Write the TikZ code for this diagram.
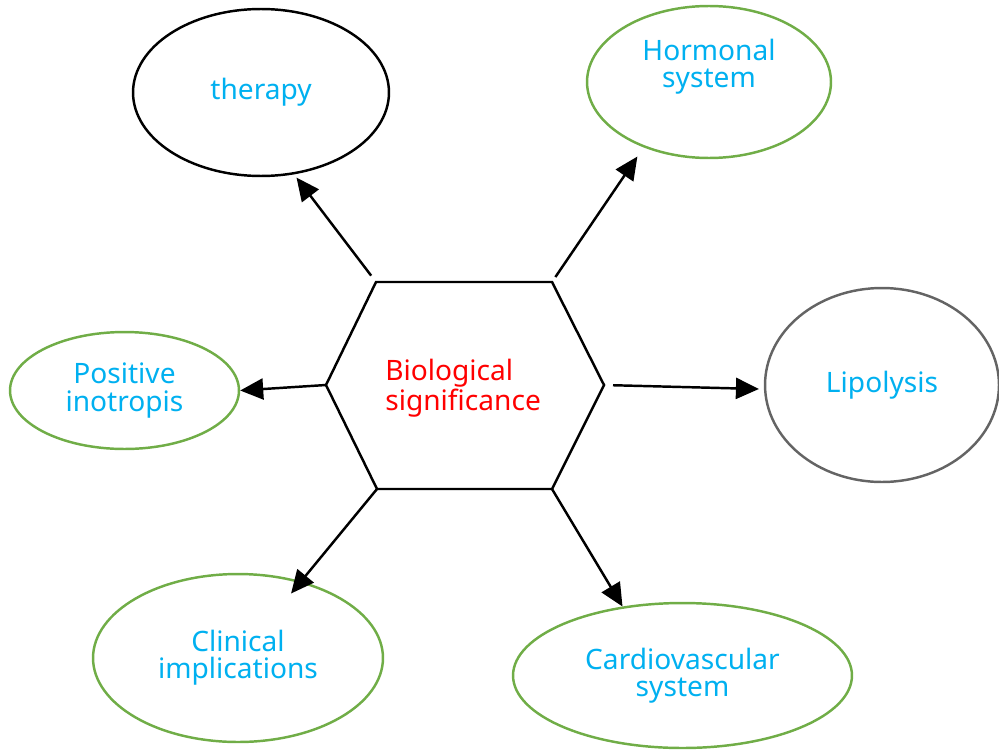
\documentclass[tikz,border=0pt]{standalone}
\usepackage{fontspec}
\setmainfont{Noto Sans}
\usetikzlibrary{arrows.meta,shapes.geometric}
\definecolor{gr}{RGB}{112,173,71}
\definecolor{bl}{RGB}{0,176,240}
\definecolor{dg}{RGB}{100,100,100}

\begin{document}
\begin{tikzpicture}[
    x=0.02cm, y=-0.02cm,
    every node/.style={font=\fontsize{16}{15.4}\selectfont, align=center},
    bub/.style={ellipse, draw, line width=1.4pt, inner sep=0pt, text=bl},
    arr/.style={line width=1.4pt, -{Triangle[length=0.46cm,width=0.42cm]}}]

      \useasboundingbox (0,0) rectangle (999,750);

      % hexagon
      \coordinate (hexTL) at (376,282);
      \coordinate (hexTR) at (552,282);
      \coordinate (hexR)  at (604,385);
      \coordinate (hexBR) at (552,489);
      \coordinate (hexBL) at (377,489);
      \coordinate (hexL)  at (326,385);
      \draw[line width=1.4pt] (hexTL) -- (hexTR) -- (hexR) -- (hexBR) -- (hexBL) -- (hexL) -- cycle;
      \node[anchor=west, align=left, inner sep=0pt, text=red] (bio) at (385,388) {Biological\\significance};

      % bubbles
      \node[bub, minimum width=5.12cm, minimum height=3.34cm] (ther) at (261,92.5) {therapy};
      \node[bub, draw=gr, minimum width=4.88cm, minimum height=3.04cm] (horm) at (709,82) {};
      \node[text=bl] (hormtxt) at (709,67) {Hormonal\\system};
      \node[bub, draw=dg, minimum width=4.68cm, minimum height=3.88cm] (lipo) at (882,385) {Lipolysis};
      \node[bub, draw=gr, minimum width=4.58cm, minimum height=2.34cm] (posi) at (124.5,390.5) {Positive\\inotropis};
      \node[bub, draw=gr, minimum width=5.80cm, minimum height=3.36cm] (clin) at (238,658) {Clinical\\implications};
      \node[bub, draw=gr, minimum width=6.78cm, minimum height=2.90cm] (card) at (682.5,675.5) {Cardiovascular\\system};

      % arrows
      \draw[arr, shorten <=0.16cm, shorten >=0.08cm] (hexTL) -- (ther.-68);
      \draw[arr, shorten <=0.12cm, shorten >=0.22cm] (hexTR) -- (horm.-135);
      \draw[arr, shorten <=0.18cm, shorten >=0.10cm] (hexR) -- (lipo.182);
      \draw[arr] (hexL) -- (posi.east);
      \draw[arr, shorten >=1.67cm] (hexBL) -- (clin.center);
      \draw[arr] (hexBR) -- (card.131);

    \end{tikzpicture}
\end{document}
